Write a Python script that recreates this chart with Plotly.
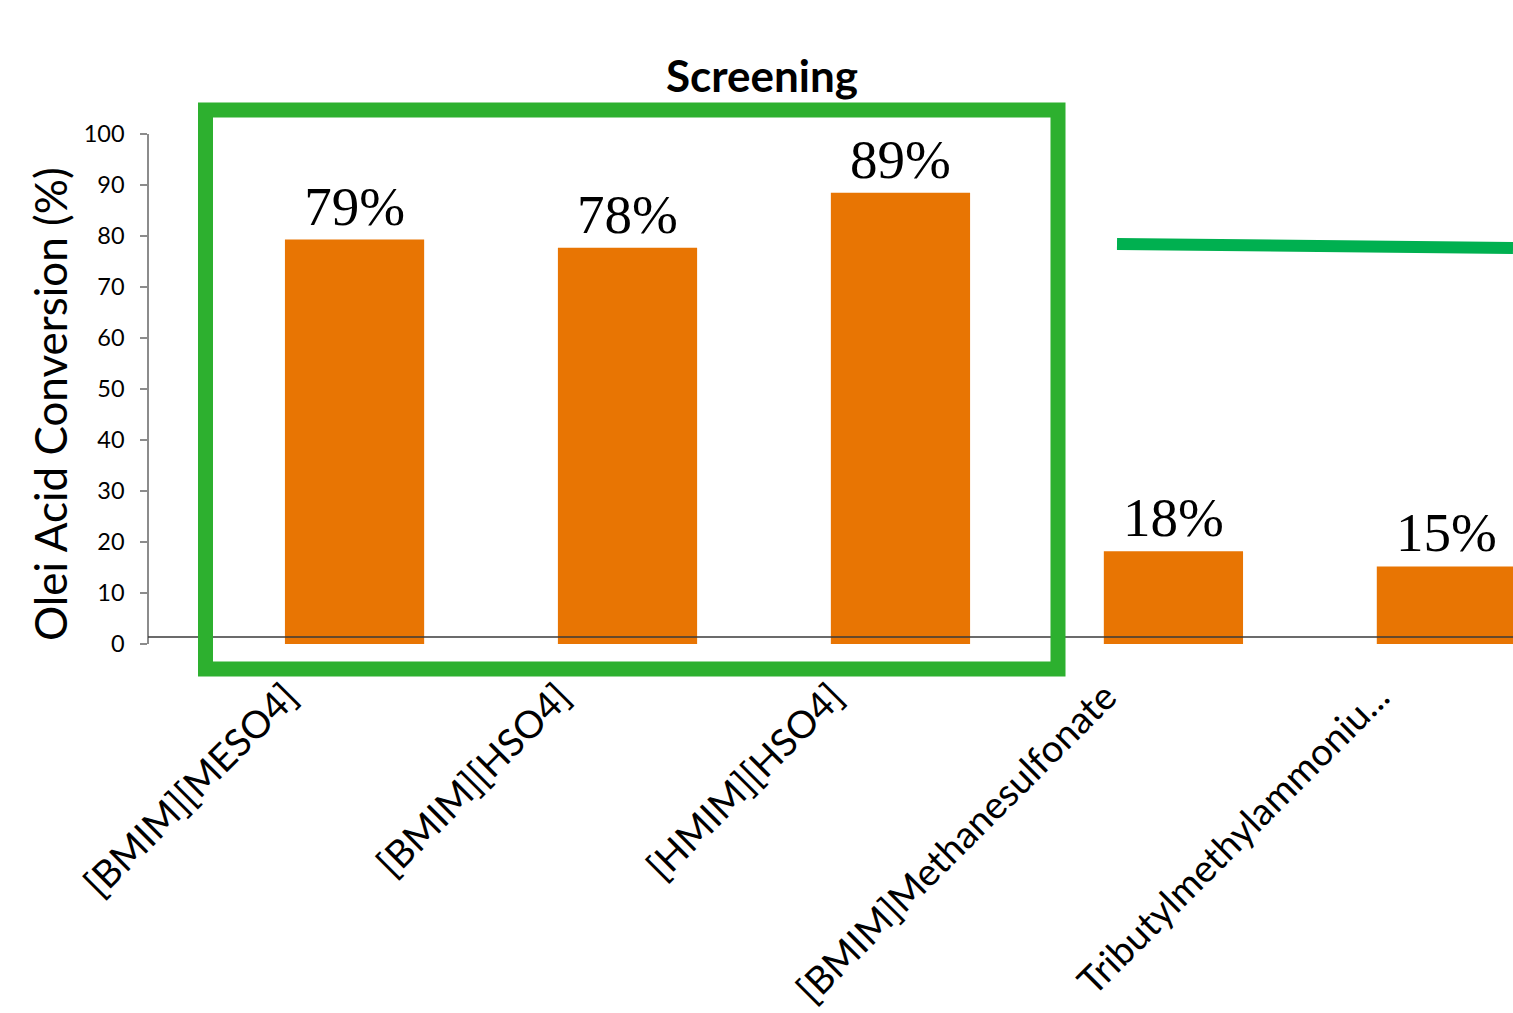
import plotly.graph_objects as go

categories = ["[BMIM][MESO4]", "[BMIM][HSO4]", "[HMIM][HSO4]",
              "[BMIM]Methanesulfonate", "Tributylmethylammoniu..."]
conversion = [79.3, 77.7, 88.5, 18.2, 15.2]
value_labels = ["79%", "78%", "89%", "18%", "15%"]
y_ticks = [0, 10, 20, 30, 40, 50, 60, 70, 80, 90, 100]

W, H = 1513, 1013
L, R, T, B = 149, 0, 134, 369
pw, ph = W - L - R, H - T - B


def px(x):
    return (x - L) / pw


def py(y):
    return (T + ph - y) / ph


fig = go.Figure()
fig.add_trace(go.Bar(
    x=list(range(len(categories))),
    y=conversion,
    width=0.51,
    marker=dict(color="#e87503", line=dict(width=0)),
    text=value_labels,
    textposition="outside",
    cliponaxis=False,
    textfont=dict(family="Liberation Serif", size=55, color="#000000"),
))

fig.update_layout(
    width=W, height=H,
    margin=dict(l=L, r=R, t=T, b=B),
    plot_bgcolor="white", paper_bgcolor="white",
    showlegend=False,
    font=dict(family="Lato", color="#000000"),
    title=dict(text="<b>Screening</b>", x=762 / W, xref="container", xanchor="center",
               y=1 - 77 / H, yref="container", yanchor="middle",
               font=dict(family="Lato", size=44, color="#000000")),
    xaxis=dict(
        range=[-0.753, 4.244],
        tickmode="array", tickvals=list(range(len(categories))), ticktext=categories,
        tickangle=-45, tickfont=dict(family="Lato", size=38, color="#000000"),
        showgrid=False, zeroline=False, showline=False, ticks="",
        ticklabelshift=-68, ticklabelstandoff=22,
    ),
    yaxis=dict(
        range=[0, 100], tickmode="array", tickvals=y_ticks,
        tickfont=dict(family="Lato", size=23.5, color="#000000"),
        showgrid=False, zeroline=False,
        showline=True, linecolor="#8c8c8c", linewidth=1.5,
        ticks="outside", ticklen=7, tickcolor="#8c8c8c", tickwidth=1.5,
        ticklabelstandoff=11,
    ),
)

fig.add_annotation(
    text="Olei Acid Conversion (%)", textangle=-90,
    xref="paper", yref="paper", x=px(50), y=py(404),
    xanchor="center", yanchor="middle", showarrow=False,
    font=dict(family="Lato", size=44, color="#000000"),
)

# thin horizontal baseline
fig.add_shape(type="line", xref="paper", yref="paper",
              x0=px(148), x1=1.0, y0=py(637), y1=py(637),
              line=dict(color="#3a3a3a", width=1.3))

# green highlight box
fig.add_shape(type="rect", xref="paper", yref="paper",
              x0=px(205.5), x1=px(1058), y0=py(669), y1=py(110),
              line=dict(color="#2db02f", width=15), layer="above")

# green line on the right
fig.add_shape(type="line", xref="paper", yref="paper",
              x0=px(1117), x1=px(1513), y0=py(244), y1=py(248),
              line=dict(color="#00b050", width=12), layer="above")

fig.write_html("out.html")
